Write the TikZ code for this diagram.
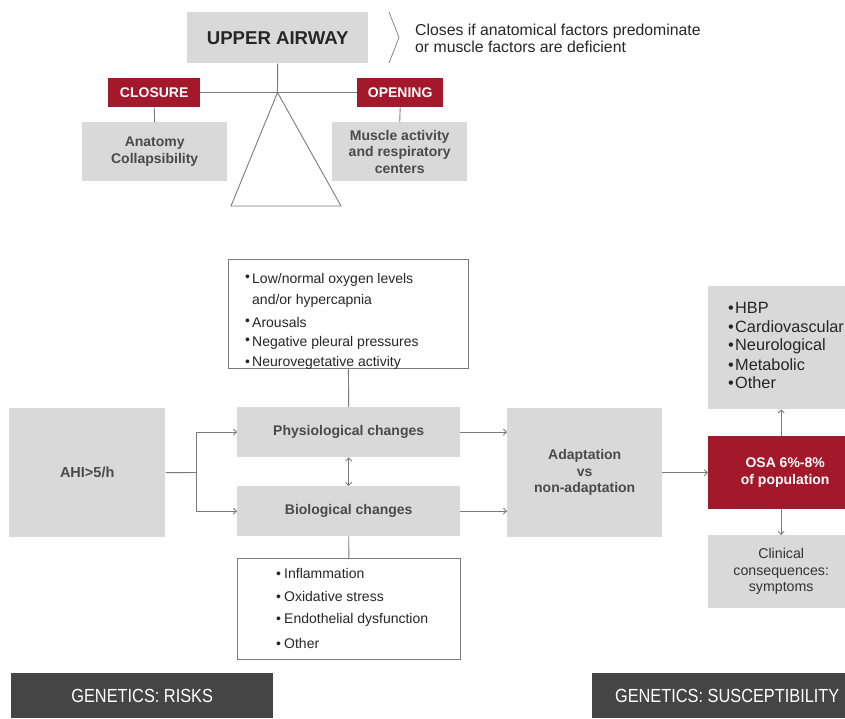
\documentclass[tikz,border=0pt]{standalone}
\usepackage{fontspec}
\setmainfont{Liberation Sans}
\usetikzlibrary{arrows.meta}
\definecolor{boxgray}{HTML}{D9D9D9}
\definecolor{txtgray}{HTML}{4A4A4A}
\definecolor{osared}{HTML}{A3182A}
\definecolor{linegray}{HTML}{7A7A7A}
\definecolor{darkbar}{HTML}{454545}
\newcommand\fsz[2]{\fontsize{#1}{#2}\selectfont}
\newcommand\narrowtext[1]{\scalebox{0.86}[1]{#1}}

\begin{document}
\begin{tikzpicture}[x=1pt,y=-1pt,
  graybox/.style={rectangle, fill=boxgray, inner sep=0pt, anchor=north west,
    text=txtgray, font=\bfseries\fsz{14}{16.5}, align=center},
  redbox/.style={rectangle, fill=osared, inner sep=0pt, anchor=north west,
    text=white, font=\bfseries\fsz{14}{16.5}, align=center},
  listbox/.style={rectangle, draw=linegray, line width=0.8pt, fill=white,
    inner sep=0pt, anchor=north west},
  darkbox/.style={rectangle, fill=darkbar, inner sep=0pt, anchor=north west,
    text=white, font=\fsz{19}{21}},
  link/.style={draw=linegray, line width=0.9pt},
  tipA/.tip={Straight Barb[length=3pt,width=6pt]},
  arr/.style={link, -tipA},
  listitem/.style={anchor=west, inner sep=0pt, font=\fsz{14}{16}, text=black!85},
  bigitem/.style={anchor=west, inner sep=0pt, font=\fsz{16.3}{18}, text=black!85},
]
\clip (0,0) rectangle (845,718);

% --- upper airway balance ---
\node[graybox, minimum width=181, minimum height=51,
      font=\bfseries\fsz{18.6}{20}, text=black!85] (ua) at (187,12) {UPPER AIRWAY};
\draw[link, line width=0.7pt] (389,12) -- (399,37.5) -- (389,63);
\node[anchor=west, align=left, inner sep=0pt, font=\fsz{15.8}{17}, text=black!85]
  (closes) at (415,38.5) {Closes if anatomical factors predominate\\or muscle factors are deficient};

\node[redbox, minimum width=92, minimum height=29] (closure) at (108,78) {CLOSURE};
\node[redbox, minimum width=86, minimum height=29] (opening) at (357,78) {OPENING};
\node[graybox, minimum width=145, minimum height=59] (anat) at (82,122) {Anatomy\\Collapsibility};
\node[graybox, minimum width=135, minimum height=59] (musc) at (332,122) {Muscle activity\\and respiratory\\centers};

\coordinate (pivot) at (277.5,92.5);
\draw[link] (ua.south) -- (pivot);
\draw[link] (closure.east) -- (opening.west);
\draw[link] (closure.south) -- (anat.north);
\draw[link] (opening.south) -- (musc.north);
\draw[link] (pivot) -- (231,206) -- (341,206) -- cycle;

% --- pathophysiology flow ---
\node[listbox, minimum width=240, minimum height=109] (sym) at (228,259) {};
\node[listitem] (s1) at (245,280) {\makebox[7pt][l]{\raisebox{2pt}{\textbullet}}Low/normal oxygen levels};
\node[listitem] (s1b) at (245,301) {\hspace{7pt}and/or hypercapnia};
\node[listitem] (s2) at (245,322) {\makebox[7pt][l]{\raisebox{2pt}{\textbullet}}Arousals};
\node[listitem] (s3) at (245,343) {\makebox[7pt][l]{\raisebox{2pt}{\textbullet}}Negative pleural pressures};
\node[listitem] (s4) at (245,363) {\makebox[7pt][l]{\textbullet}Neurovegetative activity};

\node[graybox, minimum width=156, minimum height=129, font=\bfseries\fsz{14.5}{16.5}] (ahi) at (9,408) {AHI>5/h};
\node[graybox, minimum width=223, minimum height=50] (phys) at (237,407) {Physiological changes};
\node[graybox, minimum width=223, minimum height=50] (bio) at (237,486) {Biological changes};
\node[graybox, minimum width=155, minimum height=129]
  (adapt) at (507,408) {Adaptation\\vs\\non-adaptation};
\node[redbox, minimum width=154, minimum height=73]
  (osa) at (708,436) {OSA 6\%-8\%\\of population};
\node[graybox, minimum width=146, minimum height=123] (comorb) at (708,286) {};
\node[bigitem] (c1) at (728,308) {\makebox[7pt][l]{\textbullet}HBP};
\node[bigitem] (c2) at (728,327) {\makebox[7pt][l]{\textbullet}Cardiovascular};
\node[bigitem] (c3) at (728,346) {\makebox[7pt][l]{\textbullet}Neurological};
\node[bigitem] (c4) at (728,365) {\makebox[7pt][l]{\textbullet}Metabolic};
\node[bigitem] (c5) at (728,383) {\makebox[7pt][l]{\textbullet}Other};
\node[graybox, minimum width=146, minimum height=73, font=\fsz{14.2}{16.5}, text=black!80]
  (clin) at (708,535) {Clinical\\consequences:\\symptoms};

\node[listbox, minimum width=223, minimum height=101] (bioitems) at (237,558) {};
\node[listitem] (b1) at (276,573) {\makebox[8pt][l]{\textbullet}Inflammation};
\node[listitem] (b2) at (276,596) {\makebox[8pt][l]{\textbullet}Oxidative stress};
\node[listitem] (b3) at (276,619.5) {\makebox[8pt][l]{\textbullet}Endothelial dysfunction};
\node[listitem] (b4) at (276,643) {\makebox[8pt][l]{\textbullet}Other};

\node[darkbox, minimum width=262, minimum height=45] (genr) at (11,673) {\narrowtext{GENETICS: RISKS}};
\node[darkbox, minimum width=270, minimum height=45] (gens) at (592,673) {\narrowtext{GENETICS: SUSCEPTIBILITY}};

% connectors
\draw[link] (sym.south) -- (phys.north);
\draw[link] (bio.south) -- (bioitems.north);
\coordinate (fork) at (196,472.5);
\draw[link] (ahi.east) -- (fork);
\draw[arr] (fork) |- (phys.west);
\draw[arr] (fork) |- (bio.west);
\draw[link, tipA-tipA] (phys.south) -- (bio.north);
\draw[arr] (phys.east) -- (adapt.west |- phys.east);
\draw[arr] (bio.east) -- (adapt.west |- bio.east);
\draw[arr] (adapt.east) -- (osa.west);
\draw[arr] (osa.north -| comorb.south) -- (comorb.south);
\draw[arr] (osa.south -| clin.north) -- (clin.north);
\end{tikzpicture}
\end{document}
